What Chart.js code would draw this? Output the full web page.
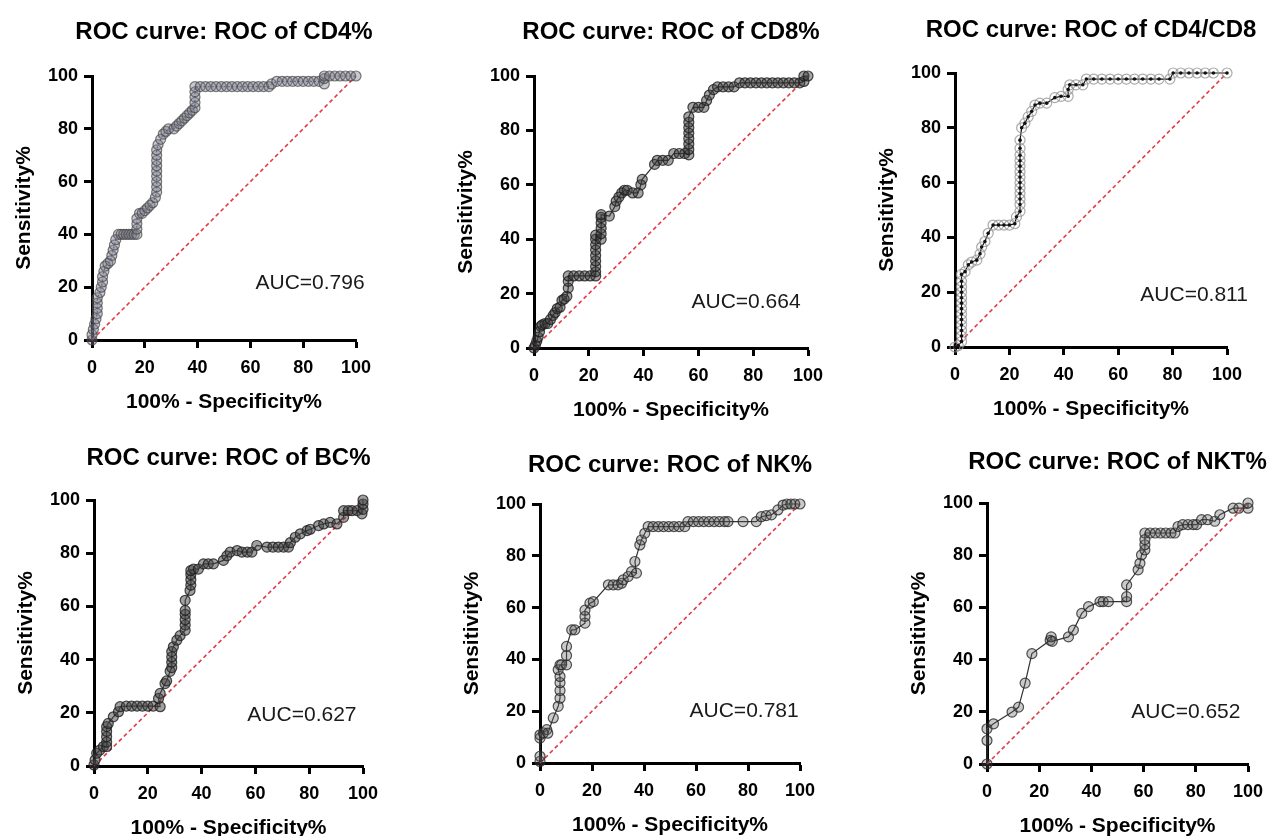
<!DOCTYPE html>
<html>
<head>
<meta charset="utf-8">
<title>ROC curves</title>
<script src="https://cdn.jsdelivr.net/npm/chart.js@4.4.0/dist/chart.umd.min.js"></script>
<style>
  html, body { margin: 0; padding: 0; background: #fff; overflow: hidden; }
  body { width: 1276px; height: 836px; position: relative; overflow: hidden; }
  canvas { position: absolute; }
</style>
</head>
<body>
<canvas id="cd4"></canvas>
<canvas id="cd8"></canvas>
<canvas id="ratio"></canvas>
<canvas id="bc"></canvas>
<canvas id="nk"></canvas>
<canvas id="nkt"></canvas>
<script>
// [100% - specificity%, sensitivity%]
const cd4Roc = [[0,0],[0,2],[0.5,4],[1,6],[1.5,8],[2,10],[2,12],[2,14],[2,16],[3,18],[3.5,20],[4,22],[4,24],[4.5,26],[5,28],[6,29],[7,30],[7.5,32],[8,34],[8.5,36],[9,38],[10,40],[11,40],[12,40],[13,40],[14,40],[15,40],[16,40],[17,40],[17,42],[17,44],[17,46],[18,48],[19,48],[20,49],[21,50],[22,51],[23,52],[24,54],[24.5,56],[24.5,58],[24.5,60],[24.5,62],[24.5,64],[24.5,66],[24.5,68],[24.5,70],[24.5,72],[25,74],[26,76],[27,78],[28,79],[29,80],[31,80],[32,81],[33,82],[34,83],[35,84],[36,85],[37,86],[38,87],[39,88],[39,90],[39,92],[39,94],[39,96],[41,96],[43,96],[45,96],[47,96],[49,96],[51,96],[53,96],[55,96],[57,96],[59,96],[61,96],[63,96],[65,96],[67,96],[68,97],[70,98],[72,98],[74,98],[76,98],[78,98],[80,98],[82,98],[84,98],[86,98],[88,97],[88,99],[88,100],[90,100],[92,100],[94,100],[96,100],[98,100],[100,100]];

const cd8Roc = [[0,0],[0.5,1],[1,2.5],[1.5,4],[2,6],[2.5,8],[3,8.5],[4,9],[5,9],[6,10.5],[7,12],[7.7,13],[8.5,14.5],[9.5,15],[10.2,17.5],[11,18],[12,19],[12.5,22],[12.5,24.5],[12.5,26.5],[14.5,26.5],[16.5,26.5],[18.5,26.5],[20.5,26.5],[22.5,26.5],[22.5,28],[22.5,30],[22.5,32],[22.5,34],[22.5,36],[22.5,38],[22.5,40],[22.5,41.5],[24.5,40],[24.5,42],[24.5,44],[24.5,46],[24.5,48],[24.5,49],[27.5,48.5],[29.5,52],[30,54],[31,55.5],[32,57],[33,58],[34,58],[36,57],[38,57],[39,60],[39.5,62],[44,67.5],[45,69],[47,69],[49,69],[51,71.5],[53,71.5],[55,71.5],[56.5,71],[56.5,73],[56.5,75],[56.5,77],[56.5,79],[56.5,81],[56.5,83],[56.5,85],[58,88.5],[60,88.5],[62,88.5],[63,91],[64,93],[65.5,95],[67,96],[69,96],[71,96],[73,96],[75,97.5],[77,97.5],[79,97.5],[81,97.5],[83,97.5],[85,97.5],[87,97.5],[89,97.5],[91,97.5],[93,97.5],[95,97.5],[97,97.5],[98.5,98],[98.5,100],[100,100]];

const ratioRoc = [[0,0],[1.2,0.5],[2.4,2],[2.4,4],[2.4,6],[2.4,8],[2.4,10],[2.4,12],[2.4,14],[2.4,16],[2.4,18],[2.4,20],[2.4,22],[2.4,24],[2.4,26.5],[3.7,27.5],[4.9,30],[6.1,31],[8,31.7],[9.2,34],[9.8,36.5],[11,38.5],[12.2,41.5],[14,44.5],[16,44.5],[18,44.5],[20,44.5],[22,45],[22.6,47.5],[23.9,49.5],[23.9,52],[23.9,54],[23.9,56],[23.9,58],[23.9,60],[23.9,62],[23.9,64],[23.9,66],[23.9,68],[23.9,70],[23.9,72.5],[23.9,75.5],[24.5,80],[25.7,81.7],[26.9,84],[28.2,86],[29.4,88.3],[31.2,89],[33.7,89],[36.7,91],[39,91.5],[41.6,91.5],[41.6,94],[42.2,95.7],[44.5,95.7],[47,95.7],[48.3,97.8],[51,97.8],[54,97.8],[57,97.8],[60,97.8],[63,97.8],[66,97.8],[69,97.8],[72,97.8],[75,97.8],[79,97.8],[80.2,100],[83,100],[86,100],[89,100],[92,100],[95,100],[100,100]];

const bcRoc = [[0,0.4],[0.4,2.3],[1,4.8],[2.2,6],[3.5,7.3],[4.7,7.3],[4.7,9],[4.7,11],[4.7,13],[4.7,14.8],[5.3,16],[7.2,18.5],[9.1,20.4],[9.7,22.3],[12,22.5],[14,22.5],[16,22.5],[18,22.5],[20,22.5],[22,22.5],[24.6,22.3],[24,25.4],[24.6,27.3],[26.4,31],[27,32],[28.3,35.6],[28.9,37],[28.9,39],[28.9,41],[28.9,43],[29.5,44.8],[30.8,47.3],[32,49],[33.9,51],[33.9,53],[33.9,55],[33.9,57],[33.9,58.5],[33.9,62.3],[35.7,66],[36,68],[36,70],[36,72],[36,73.5],[37,74],[38.8,74],[40.7,76],[42.5,76],[44.4,76],[48.1,77.3],[49.4,79],[50.6,80.4],[53.2,81],[55,80.4],[57,80.4],[58.7,80.4],[60.5,82.9],[64.3,82.3],[66.5,82.3],[68.5,82.3],[70.5,82.3],[72.3,82.3],[73,84],[74.8,86],[76.7,87.3],[79.2,88.5],[80.4,89],[83.5,90.4],[85.4,91],[87.8,91.6],[90.3,91],[92.8,93.5],[92.8,96],[94.5,96],[95.9,96],[97.8,96],[99.6,94.8],[100,96.5],[100,98.5],[100,100]];

const nkRoc = [[0,0.6],[0,2.6],[0,9.6],[0,10.9],[1.3,11.6],[2.6,12.9],[3,11.5],[5.1,17.4],[7,21.9],[7.7,25],[7.7,28],[7.7,31],[7.7,33.4],[7,36],[7.7,37.9],[8.3,37.9],[10.2,37.9],[10.2,41.5],[10.2,45],[12.2,51.4],[13.4,51.4],[17.3,54],[17.3,56.6],[17.3,59],[19.2,61.7],[20.5,62.3],[26.3,68.8],[28.2,68.8],[30,68.8],[31.4,69.4],[32,70.7],[33.9,72],[35.2,73.9],[37.1,73.3],[36.5,77.8],[38.4,84.2],[39,86.1],[40.3,88.7],[41.6,91.3],[43.5,91.3],[45.5,91.3],[47.5,91.3],[49.5,91.3],[51.5,91.3],[53.5,91.3],[55.7,91.3],[56.9,93.2],[59,93.2],[61,93.2],[63,93.2],[65,93.2],[67,93.2],[69,93.2],[71,93.2],[72.3,93.2],[78.1,93.2],[83.2,93.2],[85.1,95.1],[87,95.5],[89,95.8],[91.5,97.7],[93.5,99.6],[95,100],[96.5,100],[98,100],[100,100]];

const nktRoc = [[0,0],[0,9],[0,13.5],[2.5,15.4],[9.6,19.9],[12.1,21.8],[14.6,31],[17.2,42.3],[24.2,47.4],[24.6,48.7],[25,47],[31.2,48.7],[33.1,51.3],[36.3,57.7],[38.9,60.3],[43.3,62.2],[44.5,62.2],[46.5,62.2],[53.5,62.2],[53.5,64.1],[53.5,68.6],[57.9,74.4],[58.6,76.9],[59.2,80.1],[60.5,82],[60.5,84],[60.5,86],[60.5,88.5],[62.5,88.5],[64.5,88.5],[66.5,88.5],[68.5,88.5],[70.5,88.5],[72,88.5],[73.2,91],[75,91.7],[77,91.7],[79,91.7],[80.3,91.7],[82.2,93.6],[84.5,93.6],[87.3,93],[89.2,95.5],[94.3,98],[96.5,98],[100,98],[100,100]];

// chance line
const chanceX = [0, 100];
const chanceY = [0, 100];

const titles = ["ROC curve: ROC of CD4%", "ROC curve: ROC of CD8%", "ROC curve: ROC of CD4/CD8",
                "ROC curve: ROC of BC%", "ROC curve: ROC of NK%", "ROC curve: ROC of NKT%"];
const aucs = ["AUC=0.796", "AUC=0.664", "AUC=0.811", "AUC=0.627", "AUC=0.781", "AUC=0.652"];

const FONT = '"Liberation Sans", Arimo, Arial, sans-serif';
const SIDE_W = 90;   // y axis box on the left, matching empty box on the right
const X_AXIS_H = 80;

// plot-area boxes on the page, title centre line, AUC label placement (fraction of plot area)
const layout = [
  { id: "cd4",   left: 92,  top: 76,  right: 356,  bottom: 340, titleY: 32,  ax: 0.826, ay: 0.784 },
  { id: "cd8",   left: 534, top: 76,  right: 808,  bottom: 348, titleY: 32,  ax: 0.774, ay: 0.83 },
  { id: "ratio", left: 955, top: 73,  right: 1227, bottom: 347, titleY: 30,  ax: 0.879, ay: 0.81 },
  { id: "bc",    left: 94,  top: 500, right: 363,  bottom: 766, titleY: 458, ax: 0.773, ay: 0.81 },
  { id: "nk",    left: 540, top: 504, right: 800,  bottom: 763, titleY: 465, ax: 0.785, ay: 0.80 },
  { id: "nkt",   left: 987, top: 503, right: 1248, bottom: 764, titleY: 462, ax: 0.762, ay: 0.80 },
];

const looks = [
  { line: "#3d4f9c", dash: [2, 2], fill: "rgba(120,120,135,0.4)", edge: "rgba(70,70,70,0.7)", dots: false },
  { line: "#333", dash: [], fill: "rgba(55,55,55,0.45)", edge: "rgba(30,30,30,0.8)", dots: false },
  { line: "#111", dash: [], fill: "rgba(255,255,255,0)", edge: "rgba(150,150,150,0.8)", dots: true },
  { line: "#333", dash: [], fill: "rgba(65,65,65,0.5)", edge: "rgba(30,30,30,0.8)", dots: false },
  { line: "#333", dash: [], fill: "rgba(90,90,90,0.32)", edge: "rgba(40,40,40,0.8)", dots: false },
  { line: "#333", dash: [], fill: "rgba(90,90,90,0.32)", edge: "rgba(40,40,40,0.8)", dots: false },
];

const series = [cd4Roc, cd8Roc, ratioRoc, bcRoc, nkRoc, nktRoc];

const aucLabel = {
  id: "aucLabel",
  afterDatasetsDraw(chart, args, opts) {
    const { ctx, chartArea: a } = chart;
    ctx.save();
    ctx.font = "21px " + FONT;
    ctx.fillStyle = "#1a1a1a";
    ctx.textAlign = "center";
    ctx.textBaseline = "middle";
    ctx.fillText(opts.text, a.left + opts.ax * (a.right - a.left), a.top + opts.ay * (a.bottom - a.top));
    ctx.restore();
  },
};

function axis(titleText, isX) {
  return {
    type: "linear",
    min: 0,
    max: 100,
    ticks: { stepSize: 20, color: "#000", padding: isX ? 9 : 6, font: { family: FONT, size: 18, weight: "bold" } },
    grid: { drawOnChartArea: false, drawTicks: true, tickLength: 8, tickWidth: 3, tickColor: "#000", color: "#000" },
    border: { display: true, color: "#000", width: 3 },
    title: {
      display: true,
      text: titleText,
      color: "#000",
      font: { family: FONT, size: 21, weight: "bold", lineHeight: 1.2 },
      padding: isX ? { top: 0, bottom: 5 } : { top: 10, bottom: 0 },
    },
    afterFit(scale) {
      if (isX) {
        scale.height = X_AXIS_H;
        scale.paddingLeft = 0;
        scale.paddingRight = 0;
      } else {
        scale.width = SIDE_W;
        scale.paddingTop = 0;
        scale.paddingBottom = 0;
      }
    },
  };
}

// empty box on the right so the full-width title centres over the plot
const spacer = {
  type: "linear",
  position: "right",
  min: 0,
  max: 100,
  ticks: { display: false },
  grid: { display: false },
  border: { display: false },
  afterFit(scale) {
    scale.width = SIDE_W;
    scale.paddingTop = 0;
    scale.paddingBottom = 0;
  },
};

layout.forEach((box, i) => {
  const cv = document.getElementById(box.id);
  const left = box.left - SIDE_W;
  const top = box.titleY - 15;
  cv.width = box.right + SIDE_W - left;
  cv.height = box.bottom + X_AXIS_H - top;
  cv.style.left = left + "px";
  cv.style.top = top + "px";

  const look = looks[i];
  const pts = series[i].map(([x, y]) => ({ x, y }));
  const datasets = [
    {
      data: chanceX.map((x, k) => ({ x, y: chanceY[k] })),
      showLine: true,
      borderColor: "rgb(228,58,70)",
      borderWidth: 1.6,
      borderDash: [4, 3],
      pointRadius: 0,
      order: 3,
      clip: false,
    },
    {
      data: pts,
      showLine: true,
      borderColor: look.line,
      borderWidth: 1.2,
      borderDash: look.dash,
      pointRadius: 5,
      pointBackgroundColor: look.fill,
      pointBorderColor: look.edge,
      pointBorderWidth: 1.2,
      order: 2,
      clip: false,
    },
  ];
  if (look.dots) {
    datasets.push({
      data: pts,
      showLine: false,
      pointRadius: 1.8,
      pointBackgroundColor: "#111",
      pointBorderWidth: 0,
      order: 1,
      clip: false,
    });
  }

  new Chart(cv, {
    type: "scatter",
    data: { datasets },
    options: {
      responsive: false,
      animation: false,
      events: [],
      layout: { padding: 0 },
      scales: {
        x: axis("100% - Specificity%", true),
        y: axis("Sensitivity%", false),
        yr: spacer,
      },
      plugins: {
        legend: { display: false },
        tooltip: { enabled: false },
        title: {
          display: true,
          text: titles[i],
          color: "#000",
          font: { family: FONT, size: 24, weight: "bold", lineHeight: 1.25 },
          padding: { top: 0, bottom: box.top - box.titleY - 15 },
        },
        aucLabel: { text: aucs[i], ax: box.ax, ay: box.ay },
      },
    },
    plugins: [aucLabel],
  });
});
</script>
</body>
</html>
